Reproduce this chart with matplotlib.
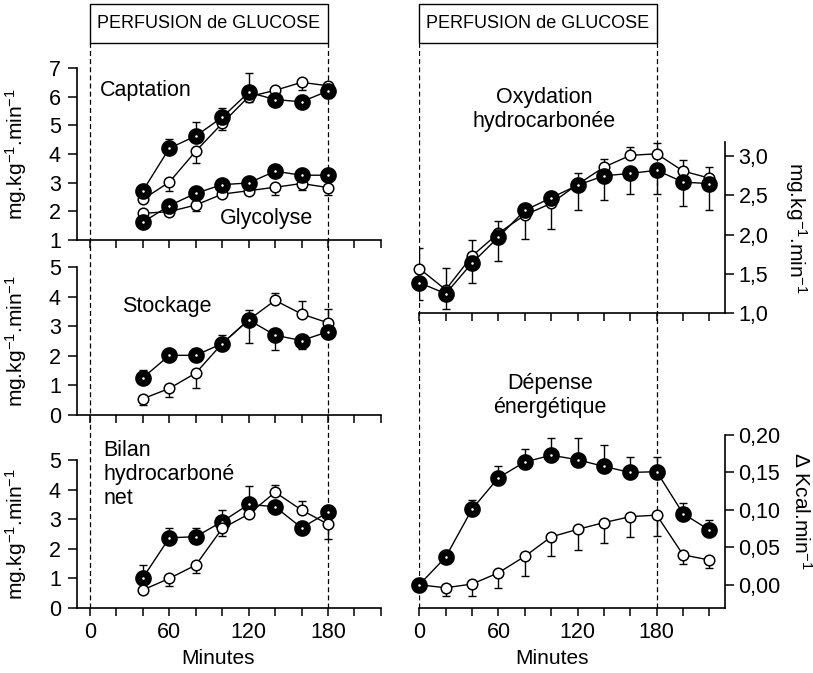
"""
Perfusion de glucose : captation, stockage, oxydation et dépense énergétique.
"""
import matplotlib.pyplot as plt
import numpy as np
from matplotlib.ticker import FuncFormatter, MultipleLocator

plt.rcParams["font.family"] = ["Liberation Sans", "DejaVu Sans"]
plt.rcParams["mathtext.fontset"] = "custom"
plt.rcParams["mathtext.rm"] = "Liberation Sans"
plt.rcParams["mathtext.default"] = "regular"

# perfusion window (minutes)
perf_start = 0
perf_end = 180

t_left = [40, 60, 80, 100, 120, 140, 160, 180]
t_right = [0, 20, 40, 60, 80, 100, 120, 140, 160, 180, 200, 220]

# Captation
capt_closed = [2.72, 4.2, 4.63, 5.28, 6.15, 5.9, 5.82, 6.2]
capt_closed_lo = [0, 0, 0, 0, 0, 0, 0, 0.25]
capt_closed_hi = [0, 0.33, 0.5, 0.32, 0.66, 0, 0, 0]
capt_open = [2.42, 3.02, 4.1, 5.07, 6.0, 6.22, 6.5, 6.38]
capt_open_lo = [0, 0.3, 0.42, 0.23, 0.2, 0, 0.25, 0]
capt_open_hi = [0, 0, 0, 0, 0, 0, 0, 0]

# Glycolyse
glyc_closed = [1.62, 2.2, 2.63, 2.93, 2.99, 3.4, 3.26, 3.26]
glyc_closed_lo = [0, 0, 0, 0, 0, 0, 0, 0]
glyc_closed_hi = [0, 0, 0, 0, 0, 0.18, 0.12, 0]
glyc_open = [1.93, 1.99, 2.22, 2.6, 2.72, 2.84, 2.97, 2.83]
glyc_open_lo = [0, 0, 0.2, 0, 0, 0.28, 0.23, 0.26]
glyc_open_hi = [0, 0, 0, 0, 0, 0, 0, 0]

# Stockage
stock_closed = [1.26, 2.02, 2.02, 2.42, 3.22, 2.7, 2.52, 2.82]
stock_closed_lo = [0, 0, 0, 0, 0.78, 0.5, 0.3, 0.22]
stock_closed_hi = [0.28, 0, 0, 0.28, 0, 0, 0, 0]
stock_open = [0.55, 0.9, 1.42, 2.42, 3.22, 3.88, 3.42, 3.12]
stock_open_lo = [0.22, 0.3, 0.52, 0, 0, 0, 0, 0]
stock_open_hi = [0, 0, 0, 0, 0.33, 0.25, 0.45, 0.46]

# Bilan hydrocarboné net
bilan_closed = [1.02, 2.37, 2.41, 2.92, 3.5, 3.42, 2.71, 3.23]
bilan_closed_lo = [0, 0, 0, 0, 0, 0, 0, 0]
bilan_closed_hi = [0.43, 0.32, 0.3, 0.39, 0.63, 0, 0, 0]
bilan_open = [0.61, 1.0, 1.45, 2.69, 3.17, 3.91, 3.31, 2.83]
bilan_open_lo = [0, 0.25, 0.28, 0.25, 0, 0, 0, 0.5]
bilan_open_hi = [0, 0, 0, 0, 0, 0.25, 0.3, 0]

# Oxydation hydrocarbonée
oxy_closed = [1.39, 1.25, 1.64, 1.97, 2.31, 2.47, 2.63, 2.75, 2.78, 2.82, 2.67, 2.65]
oxy_closed_lo = [0.22, 0.19, 0.25, 0.31, 0.37, 0.4, 0.32, 0.31, 0.26, 0.3, 0.31, 0.34]
oxy_closed_hi = [0] * 12
oxy_open = [1.57, 1.3, 1.73, 2.02, 2.25, 2.4, 2.64, 2.86, 3.01, 3.03, 2.81, 2.72]
oxy_open_lo = [0] * 12
oxy_open_hi = [0.26, 0.28, 0.2, 0.16, 0, 0, 0.15, 0.11, 0.11, 0.14, 0.14, 0.14]

# Dépense énergétique
dep_closed = [0, 0.037, 0.101, 0.143, 0.164, 0.173, 0.167, 0.158, 0.15, 0.151, 0.095, 0.073]
dep_closed_lo = [0] * 12
dep_closed_hi = [0, 0, 0.012, 0.015, 0.017, 0.023, 0.029, 0.028, 0.021, 0.019, 0.014, 0.013]
dep_open = [0, -0.004, 0.001, 0.016, 0.038, 0.064, 0.074, 0.083, 0.091, 0.093, 0.04, 0.033]
dep_open_lo = [0, 0.011, 0.016, 0.02, 0.026, 0.026, 0.027, 0.027, 0.027, 0.028, 0.012, 0.011]
dep_open_hi = [0] * 12

UNIT = "mg.kg$^{-1}$.min$^{-1}$"
W, H = 813, 673
LEFT_X = (76.8, 380.9)
RIGHT_X = (419.3, 725.3)

closed_style = dict(color="black", lw=1, marker="o", ms=7, mfc="white", mec="black", mew=5)
open_style = dict(color="black", lw=1, marker="o", ms=7.6, mfc="white", mec="black", mew=1.1)


def px_axes(fig, xs, y_top, y_bottom):
    x0, x1 = xs
    return fig.add_axes([x0 / W, 1 - y_bottom / H, (x1 - x0) / W, (y_bottom - y_top) / H])


def draw_pair(ax, t, closed, c_lo, c_hi, opened, o_lo, o_hi, open_on_top=False):
    z_open, z_closed = (5, 4) if open_on_top else (4, 5)
    ax.errorbar(t, opened, yerr=[o_lo, o_hi], fmt="none", ecolor="black",
                elinewidth=1, capsize=3, capthick=1, zorder=2)
    ax.errorbar(t, closed, yerr=[c_lo, c_hi], fmt="none", ecolor="black",
                elinewidth=1, capsize=3, capthick=1, zorder=2)
    ax.plot(t, opened, zorder=z_open, clip_on=False, **open_style)
    ax.plot(t, closed, zorder=z_closed, clip_on=False, **closed_style)


def style_axes(ax, side, xlim, show_xlabels, xlabel_xy=(0.5, -0.27)):
    ax.patch.set_alpha(0)
    ax.set_zorder(2)
    for s in ("top", "left", "right"):
        ax.spines[s].set_visible(False)
    ax.spines[side].set_visible(True)
    for s in ax.spines.values():
        s.set_linewidth(1.2)
    ax.set_xlim(*xlim)
    ax.xaxis.set_major_locator(MultipleLocator(60))
    ax.xaxis.set_minor_locator(MultipleLocator(20))
    ax.tick_params(axis="x", which="both", direction="out", length=6, width=1.1,
                   labelsize=15.5, pad=4, labelbottom=show_xlabels)
    ax.tick_params(axis="y", direction="out", length=6.5, width=1.1, labelsize=15.5,
                   pad=5 if side == "left" else 3)
    if side == "right":
        ax.yaxis.tick_right()
        ax.yaxis.set_label_position("right")
    if show_xlabels:
        ax.set_xlabel("Minutes", fontsize=15)
        ax.xaxis.set_label_coords(*xlabel_xy)


def perfusion_marks(fig, xs, xlim):
    head = px_axes(fig, xs, 4, 43)
    head.set_xlim(*xlim)
    head.axis("off")
    head.axvspan(perf_start, perf_end, fill=False, edgecolor="black", lw=1, clip_on=False)
    head.text((perf_start + perf_end) / 2, 0.5, "PERFUSION de GLUCOSE",
              ha="center", va="center", fontsize=13, transform=head.get_xaxis_transform())
    over = px_axes(fig, xs, 43, 608)
    over.set_xlim(*xlim)
    over.axis("off")
    over.set_zorder(0)
    for x in (perf_start, perf_end):
        over.axvline(x, color="black", lw=0.9, linestyle=(0, (4, 2.5)))


fig = plt.figure(figsize=(W / 100, H / 100), dpi=100)

left_xlim = (-10, 220)
right_xlim = (0, 232)
perfusion_marks(fig, LEFT_X, left_xlim)
perfusion_marks(fig, RIGHT_X, right_xlim)

# left column
ax1 = px_axes(fig, LEFT_X, 68, 240)
draw_pair(ax1, t_left, capt_closed, capt_closed_lo, capt_closed_hi,
          capt_open, capt_open_lo, capt_open_hi)
draw_pair(ax1, t_left, glyc_closed, glyc_closed_lo, glyc_closed_hi,
          glyc_open, glyc_open_lo, glyc_open_hi)
style_axes(ax1, "left", left_xlim, False)
ax1.set_ylim(1, 7)
ax1.set_yticks(range(1, 8))
ax1.text(7.6, 6.2, "Captation", fontsize=15.5, va="center")
ax1.text(98, 1.75, "Glycolyse", fontsize=15.5, va="center")

ax2 = px_axes(fig, LEFT_X, 267.3, 415)
draw_pair(ax2, t_left, stock_closed, stock_closed_lo, stock_closed_hi,
          stock_open, stock_open_lo, stock_open_hi)
style_axes(ax2, "left", left_xlim, False)
ax2.set_ylim(0, 5)
ax2.set_yticks(range(0, 6))
ax2.text(24, 3.66, "Stockage", fontsize=15.5, va="center")

ax3 = px_axes(fig, LEFT_X, 460, 608)
draw_pair(ax3, t_left, bilan_closed, bilan_closed_lo, bilan_closed_hi,
          bilan_open, bilan_open_lo, bilan_open_hi, open_on_top=True)
style_axes(ax3, "left", left_xlim, True, xlabel_xy=(0.464, -0.275))
ax3.set_ylim(0, 5)
ax3.set_yticks(range(0, 6))
ax3.text(10, 5.68, "Bilan\nhydrocarboné\nnet", fontsize=15.5, va="top", linespacing=1.2)

for ax in (ax1, ax2, ax3):
    ax.set_ylabel(UNIT, fontsize=15)
    ax.yaxis.set_label_coords(-0.157, 0.5)

# right column
comma = lambda nd: FuncFormatter(lambda v, p: f"{v:.{nd}f}".replace(".", ","))

ax4 = px_axes(fig, RIGHT_X, 142, 313.3)
draw_pair(ax4, t_right, oxy_closed, oxy_closed_lo, oxy_closed_hi,
          oxy_open, oxy_open_lo, oxy_open_hi)
style_axes(ax4, "right", right_xlim, False)
ax4.set_ylim(1.0, 3.18)
ax4.set_yticks(np.arange(1.0, 3.01, 0.5))
ax4.yaxis.set_major_formatter(comma(1))
ax4.text(94.5, 3.59, "Oxydation\nhydrocarbonée", fontsize=15.5, ha="center", va="center",
         linespacing=1.2)
ax4.set_ylabel(UNIT, fontsize=15, rotation=270, va="bottom")
ax4.yaxis.set_label_coords(1.189, 0.5)

ax5 = px_axes(fig, RIGHT_X, 435, 608)
draw_pair(ax5, t_right, dep_closed, dep_closed_lo, dep_closed_hi,
          dep_open, dep_open_lo, dep_open_hi)
style_axes(ax5, "right", right_xlim, True, xlabel_xy=(0.434, -0.235))
ax5.set_ylim(-0.031, 0.20)
ax5.set_yticks(np.arange(0, 0.201, 0.05))
ax5.yaxis.set_major_formatter(comma(2))
ax5.text(99, 0.253, "Dépense\nénergétique", fontsize=15.5, ha="center", va="center",
         linespacing=1.2)
ax5.set_ylabel("Δ Kcal.min$^{-1}$", fontsize=15, rotation=270, va="bottom")
ax5.yaxis.set_label_coords(1.211, 0.56)

fig.savefig("out.png", dpi=100)
